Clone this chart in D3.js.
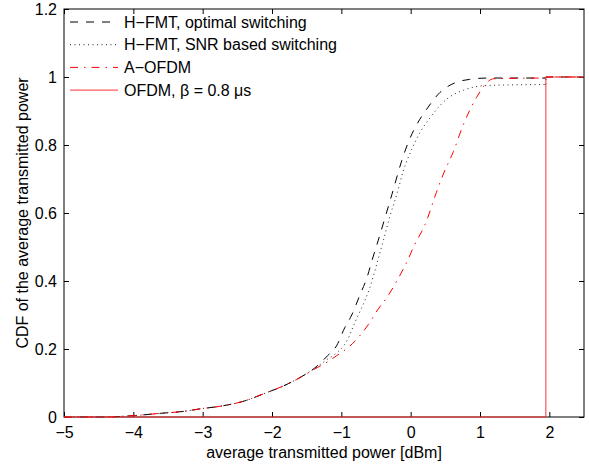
<!DOCTYPE html>
<html lang="en">
<head>
<meta charset="utf-8">
<title>CDF of average transmitted power</title>
<script src="https://d3js.org/d3.v7.min.js"></script>
<style>
  body { margin: 0; background: #fff; }
  svg text { font-family: "Liberation Sans", Arial, sans-serif; fill: #000; }
  .tick text { font-size: 16px; }
  .label { font-size: 16px; }
  .legend text { font-size: 16px; }
</style>
</head>
<body>
<svg id="chart" width="589" height="464"></svg>
<script>
// values
var xTicks = [-5, -4, -3, -2, -1, 0, 1, 2];
var yTicks = [0, 0.2, 0.4, 0.6, 0.8, 1, 1.2];

var xOpt = [-5, -4.45, -4.0, -3.6, -3.3, -3.0, -2.8, -2.4, -2.1, -1.85, -1.65, -1.35, -1.2, -1.07, -0.95, -0.85, -0.73, -0.63, -0.56, -0.47, -0.35, -0.27, -0.13, -0.03, 0.09, 0.23, 0.42, 0.64, 0.85, 1.1, 1.95, 1.95, 2.5];
var yOpt = [0, 0, 0.004, 0.011, 0.016, 0.025, 0.030, 0.047, 0.070, 0.090, 0.110, 0.150, 0.180, 0.209, 0.263, 0.30, 0.36, 0.41, 0.459, 0.518, 0.60, 0.655, 0.753, 0.81, 0.861, 0.905, 0.954, 0.983, 0.993, 0.997, 0.997, 1, 1];

var xSnr = [-5, -4.45, -4.0, -3.6, -3.3, -3.0, -2.8, -2.4, -2.1, -1.85, -1.65, -1.35, -1.2, -1.09, -0.92, -0.80, -0.71, -0.59, -0.49, -0.395, -0.30, -0.20, -0.106, 0.015, 0.135, 0.28, 0.52, 0.76, 1.1, 1.95, 1.95, 2.5];
var ySnr = [0, 0, 0.004, 0.011, 0.016, 0.025, 0.030, 0.047, 0.070, 0.090, 0.110, 0.148, 0.170, 0.185, 0.224, 0.28, 0.32, 0.38, 0.449, 0.518, 0.59, 0.655, 0.724, 0.787, 0.837, 0.88, 0.935, 0.961, 0.975, 0.978, 1, 1];

var xAofdm = [-5, -4.45, -4.0, -3.6, -3.3, -3.0, -2.8, -2.4, -2.1, -1.85, -1.65, -1.35, -1.2, -1.07, -0.875, -0.61, -0.47, -0.345, -0.2, -0.06, 0.06, 0.21, 0.37, 0.47, 0.615, 0.76, 0.95, 1.1, 1.2, 1.95, 1.95, 2.5];
var yAofdm = [0, 0, 0.004, 0.011, 0.016, 0.025, 0.030, 0.047, 0.070, 0.090, 0.110, 0.145, 0.162, 0.18, 0.209, 0.272, 0.317, 0.351, 0.40, 0.454, 0.508, 0.567, 0.66, 0.714, 0.78, 0.86, 0.94, 0.984, 0.995, 0.997, 1, 1];

var xOfdm = [-5, 1.95, 1.95, 2.5];
var yOfdm = [0, 0, 1, 1];

var series = [
  {name: "H\u2212FMT, optimal switching", x: xOpt, y: yOpt, color: "#000", dash: "8,8", width: 1},
  {name: "H\u2212FMT, SNR based switching", x: xSnr, y: ySnr, color: "#222", dash: "1,3.5", width: 1},
  {name: "A\u2212OFDM", x: xAofdm, y: yAofdm, color: "#f00", dash: "8,6,1.5,6", width: 1},
  {name: "OFDM, \u03b2 = 0.8 \u03bcs", x: xOfdm, y: yOfdm, color: "#f33", dash: null, width: 1}
];

var margin = {top: 9, right: 5, bottom: 47, left: 64},
    width = 589 - margin.left - margin.right,
    height = 464 - margin.top - margin.bottom;

var x = d3.scaleLinear().domain([-5, 2.5]).range([0, width]);
var y = d3.scaleLinear().domain([0, 1.2]).range([height, 0]);

var svg = d3.select("#chart");
var g = svg.append("g").attr("transform", "translate(" + margin.left + "," + margin.top + ")");

var fmt = function(d) { return String(d).replace("-", "\u2212"); };

// plot box first so the red OFDM line sits on top of the bottom edge
g.append("rect").attr("width", width).attr("height", height)
  .attr("fill", "none").attr("stroke", "#000").attr("stroke-width", 1);

// axes, ticks pointing inward like matlab
g.append("g").attr("transform", "translate(0," + height + ")")
  .call(d3.axisBottom(x).tickValues(xTicks).tickSizeInner(-5).tickSizeOuter(0).tickPadding(10).tickFormat(fmt));
g.append("g")
  .call(d3.axisTop(x).tickValues(xTicks).tickSizeInner(-5).tickSizeOuter(0).tickFormat(""));
g.append("g")
  .call(d3.axisLeft(y).tickValues(yTicks).tickSizeInner(-5).tickSizeOuter(0).tickPadding(7).tickFormat(fmt));
g.append("g").attr("transform", "translate(" + width + ",0)")
  .call(d3.axisRight(y).tickValues(yTicks).tickSizeInner(-5).tickSizeOuter(0).tickFormat(""));
g.selectAll(".domain").remove();
g.selectAll(".tick line").attr("stroke", "#000");

var smooth = d3.line().x(function(d) { return x(d[0]); }).y(function(d) { return y(d[1]); }).curve(d3.curveMonotoneX);
var straight = d3.line().x(function(d) { return x(d[0]); }).y(function(d) { return y(d[1]); });

series.forEach(function(s) {
  var pts = s.x.map(function(v, i) { return [v, s.y[i]]; });
  var cut = s.x.indexOf(1.95);
  var parts = s.dash ? [[pts.slice(0, cut + 1), smooth], [pts.slice(cut), straight]] : [[pts, straight]];
  parts.forEach(function(p) {
    g.append("path")
      .attr("d", p[1](p[0]))
      .attr("fill", "none")
      .attr("stroke", s.color)
      .attr("stroke-width", s.width)
      .attr("stroke-dasharray", s.dash);
  });
});

// legend
var leg = g.append("g").attr("class", "legend");
series.forEach(function(s, i) {
  var ly = 13 + i * 22.7;
  leg.append("line").attr("x1", 6).attr("x2", 54).attr("y1", ly).attr("y2", ly)
    .attr("stroke", s.color).attr("stroke-width", s.width).attr("stroke-dasharray", s.dash);
  leg.append("text").attr("x", 60).attr("y", ly + 5.5).text(s.name);
});

// axis labels
svg.append("text").attr("class", "label")
  .attr("x", margin.left + width / 2).attr("y", 458)
  .attr("text-anchor", "middle")
  .text("average transmitted power [dBm]");
svg.append("text").attr("class", "label")
  .attr("transform", "translate(28," + (margin.top + height / 2) + ") rotate(-90)")
  .attr("text-anchor", "middle")
  .text("CDF of the average transmitted power");
</script>
</body>
</html>
